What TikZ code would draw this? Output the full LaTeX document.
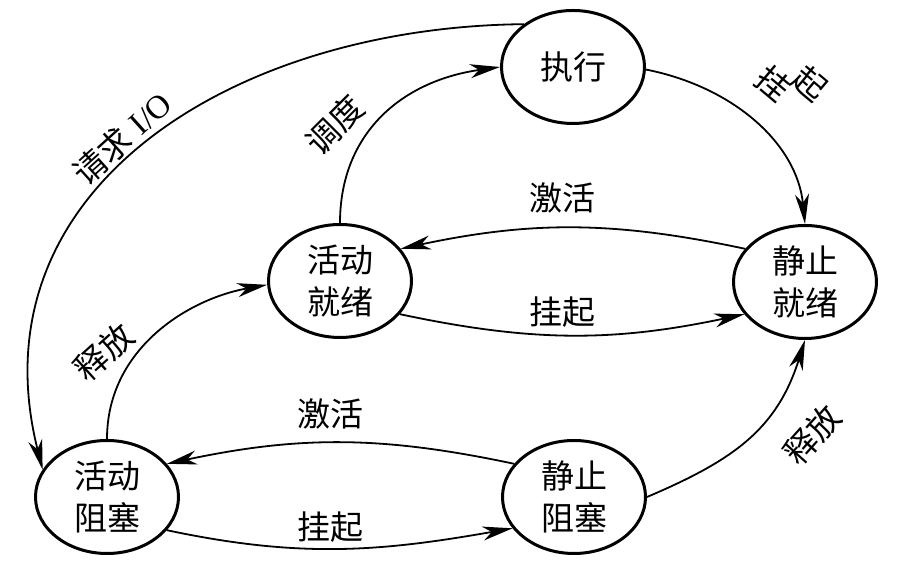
\documentclass[tikz,border=0pt]{standalone}
\usepackage{fontspec}
\setmainfont{Liberation Serif}
\newfontfamily\cjk{Noto Sans CJK SC}
\usetikzlibrary{arrows.meta,shapes.geometric}
\begin{document}
\begin{tikzpicture}[x=1pt,y=1pt,
  state/.style={ellipse,draw,line width=3pt,minimum width=143pt,minimum height=113pt,inner sep=0pt,align=center,font=\cjk\fontsize{33}{42}\selectfont},
  lbl/.style={font=\cjk\fontsize{33}{40}\selectfont,inner sep=0pt},
  conn/.style={line width=1.8pt,-{Stealth[length=30pt,width=14pt,inset=9pt]}}]
\useasboundingbox (0,0) rectangle (905,577);
\node[state] (ex) at (573,510) {执行};
\node[state] (ar) at (340,296) {活动\\就绪};
\node[state] (sr) at (805,295) {静止\\就绪};
\node[state] (ab) at (107,80) {活动\\阻塞};
\node[state] (sb) at (574,80) {静止\\阻塞};
% edges
\draw[conn] (ex.139) .. controls (233,550) and (-28,388) .. (ab.157);
\draw[conn] (ar.north) .. controls (340,443) and (401,496) .. (ex.180);
\draw[conn] (ex.-2) .. controls (734,490) and (797,433) .. (sr.north);
\draw[conn] (sr.151) to[out=168,in=12] (ar.28);
\draw[conn] (ar.-29) to[out=-12,in=192] (sr.208);
\draw[conn] (ab.north) .. controls (107,228) and (188,278) .. (ar.183);
\draw[conn] (sb.151) to[out=168,in=12] (ab.29);
\draw[conn] (ab.-29) to[out=-12,in=190] (sb.207);
\draw[conn] (sb.east) .. controls (734,117) and (777,148) .. (sr.south);
% labels
\node[lbl,rotate=42] (l1) at (122,439) {请求\hspace{9pt}{\rmfamily I/O}};
\node[lbl,rotate=45] (l2) at (335,452) {调度};
\node[lbl] (l3) at (792,493) {\rotatebox[origin=c]{-40}{挂}\hspace{-8pt}\rotatebox[origin=c]{-40}{起}};
\node[lbl] (l4) at (562,379) {激活};
\node[lbl] (l5) at (562,265) {挂起};
\node[lbl,rotate=42] (l6) at (104,225) {释放};
\node[lbl] (l7) at (330,163) {激活};
\node[lbl] (l8) at (330,50) {挂起};
\node[lbl,rotate=48] (l9) at (812,142) {释放};
\end{tikzpicture}
\end{document}
